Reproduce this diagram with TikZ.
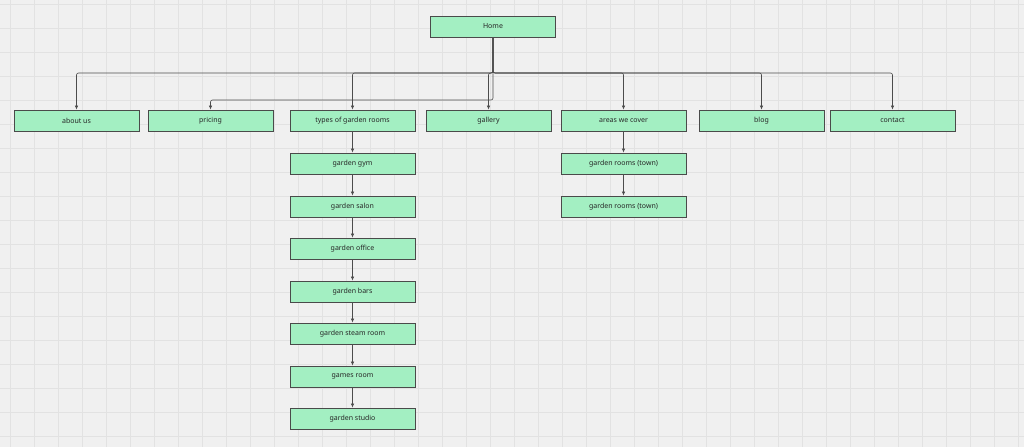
\documentclass[tikz,border=0pt]{standalone}
\usepackage{fontspec}
\setmainfont{Noto Sans}
\usetikzlibrary{arrows.meta}
\definecolor{bg}{HTML}{F0F0F0}
\definecolor{gridc}{HTML}{E2E2E2}
\definecolor{boxf}{HTML}{A3EFC2}
\definecolor{boxd}{HTML}{4A4A4A}
\tikzset{
 box/.style={draw=boxd,fill=boxf,line width=0.8pt,minimum width=125pt,minimum height=21pt,inner sep=0pt,font=\fontsize{7}{8}\selectfont,text=black!85},
 conn/.style={draw=black!70,line width=0.6pt,-{Latex[length=4pt,width=3.5pt]},rounded corners=2pt}
}
\begin{document}
\begin{tikzpicture}[x=1pt,y=-1pt]
\fill[bg] (0,0) rectangle (1024,447);
\useasboundingbox (0,0) rectangle (1024,447);
\foreach \i in {0,...,43} {\draw[gridc,line width=0.4pt] (\i*24+10,0) -- (\i*24+10,447);}
\foreach \j in {0,...,19} {\draw[gridc,line width=0.4pt] (0,\j*24+4) -- (1024,\j*24+4);}
\node[box] (home) at (493,26.5) {Home};
\node[box] (about) at (76.5,120.5) {about us};
\node[box] (pricing) at (210.5,120.5) {pricing};
\node[box] (types) at (352.5,120.5) {types of garden rooms};
\node[box] (gallery) at (488.5,120.5) {gallery};
\node[box] (areas) at (623.5,120.5) {areas we cover};
\node[box] (blog) at (761.5,120.5) {blog};
\node[box] (contact) at (892.5,120.5) {contact};
\foreach \n/\y/\t in {t1/163.5/garden gym,t2/206.5/garden salon,t3/248.5/garden office,t4/291.5/garden bars,t5/333.5/garden steam room,t6/376.5/games room,t7/418.5/garden studio}
  {\node[box] (\n) at (352.5,\y) {\t};}
\node[box] (a1) at (623.5,163.5) {garden rooms (town)};
\node[box] (a2) at (623.5,206.5) {garden rooms (town)};
\coordinate (bus) at (493,73);
\foreach \c in {about,types,gallery,areas,blog,contact}
  {\draw[conn] (home.south) -- (bus) -| (\c.north);}
\draw[conn] (home.south) -- (493,100) -| (pricing.north);
\draw[conn] (types) -- (t1); \draw[conn] (t1) -- (t2); \draw[conn] (t2) -- (t3);
\draw[conn] (t3) -- (t4); \draw[conn] (t4) -- (t5); \draw[conn] (t5) -- (t6); \draw[conn] (t6) -- (t7);
\draw[conn] (areas) -- (a1); \draw[conn] (a1) -- (a2);
\end{tikzpicture}
\end{document}
